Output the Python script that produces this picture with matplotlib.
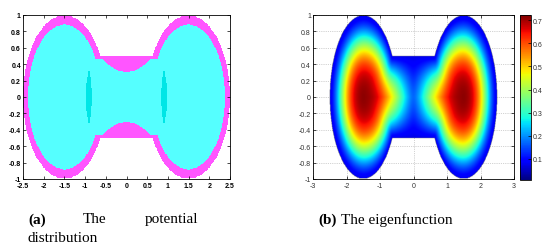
import numpy as np
import matplotlib
matplotlib.use('Agg')
import matplotlib.pyplot as plt
from matplotlib.colors import ListedColormap, Normalize

# domain: two unit discs joined by a neck
lobe_centers = [-1.5, 1.5]
lobe_radius = 1.0
neck_half_height = 0.5

# (a) potential: magenta band near the wall, cyan inside, two darker lenses
inner_radius = 0.885
neck_floor = 0.31      # cyan edge in the neck at x=0
neck_curve = 0.45
neck_cap = 0.47
lens_x = [-0.91, 0.91]
lens_half_w = 0.07
lens_half_h = 0.35
pot_colors = ['#00E6E6', '#55FFFF', '#FF55FF']

# (b) eigenfunction: two peaks, falls to a low value at the wall
peak_x = [-1.45, 1.45]
peak_val = 0.722
wall_val = 0.075
spread_out = 0.89      # towards the outer wall
spread_in = 1.17       # towards the neck
spread_y = 0.88
edge_width = 0.4
cbar_range = [0.009, 0.722]

xticks_a = [-2.5, -2, -1.5, -1, -0.5, 0, 0.5, 1, 1.5, 2, 2.5]
xticks_b = [-3, -2, -1, 0, 1, 2, 3]
yticks = [-1, -0.8, -0.6, -0.4, -0.2, 0, 0.2, 0.4, 0.6, 0.8, 1]
cbar_ticks = [0.1, 0.2, 0.3, 0.4, 0.5, 0.6, 0.7]


def domain(X, Y):
    ins = np.abs(Y) <= neck_half_height
    ins &= np.abs(X) <= abs(lobe_centers[1])
    for c in lobe_centers:
        ins |= np.hypot(X - c, Y) <= lobe_radius
    return ins


def wall_distance(X, Y):
    neck_x = abs(lobe_centers[1]) - np.sqrt(lobe_radius**2 - neck_half_height**2)
    a = np.arcsin(neck_half_height / lobe_radius)
    th = np.linspace(a, 2*np.pi - a, 300)
    pts = [np.c_[lobe_centers[0] + lobe_radius*np.cos(th), lobe_radius*np.sin(th)],
           np.c_[lobe_centers[1] - lobe_radius*np.cos(th), lobe_radius*np.sin(th)]]
    xs = np.linspace(-neck_x, neck_x, 60)
    pts.append(np.c_[xs, np.full_like(xs, neck_half_height)])
    pts.append(np.c_[xs, np.full_like(xs, -neck_half_height)])
    pts = np.vstack(pts)
    d = np.full(X.shape, np.inf)
    for bx, by in pts:
        d = np.minimum(d, np.hypot(X - bx, Y - by))
    return d


def fmt(v):
    return '{:g}'.format(v)


def style(ax, xt, weight, color):
    ax.set_xticks(xt)
    ax.set_xticklabels([fmt(v) for v in xt], weight=weight)
    ax.set_yticks(yticks)
    ax.set_yticklabels([fmt(v) for v in yticks], weight=weight)
    ax.tick_params(direction='in', top=True, right=True, length=2, width=0.5,
                   labelsize=5, pad=1.5, labelcolor=color)
    ax.tick_params(axis='x', pad=2.5)
    for s in ax.spines.values():
        s.set_linewidth(0.6)


plt.rcParams['font.family'] = ['Liberation Sans', 'DejaVu Sans']
fig = plt.figure(figsize=(5.58, 2.51), dpi=100)

# ---- (a) potential distribution
xa = np.linspace(-2.5, 2.5, 600)
ya = np.linspace(-1, 1, 260)
XA, YA = np.meshgrid(xa, ya)
ins = domain(XA, YA)
cyan = np.hypot(np.abs(XA) - abs(lobe_centers[1]), YA) < inner_radius
cyan |= (np.abs(XA) < 0.8) & (np.abs(YA) < np.minimum(neck_floor + neck_curve*XA**2, neck_cap))
lens = np.zeros_like(ins)
for lx in lens_x:
    lens |= np.abs(XA - lx) < lens_half_w*(1 - (YA/lens_half_h)**2)
code = np.full(XA.shape, np.nan)
code[ins] = 2
code[ins & cyan] = 1
code[ins & lens] = 0

ax1 = fig.add_axes([23/558, 1 - 180/251, 207/558, 164/251])
ax1.imshow(code, origin='lower', extent=[-2.5, 2.5, -1, 1], aspect='auto',
           cmap=ListedColormap(pot_colors), vmin=-0.5, vmax=2.5, interpolation='nearest')
ax1.set_xlim(-2.5, 2.5)
ax1.set_ylim(-1, 1)
style(ax1, xticks_a, 'bold', 'black')

# ---- (b) eigenfunction
xb = np.linspace(-3, 3, 560)
yb = np.linspace(-1, 1, 240)
XB, YB = np.meshgrid(xb, yb)
ins = domain(XB, YB)
d = wall_distance(XB, YB)
g = []
for px in peak_x:
    dx = XB - px
    outward = np.sign(dx) == np.sign(px)
    sx = np.where(outward, spread_out, spread_in)
    rho = np.sqrt((dx/sx)**2 + (YB/spread_y)**2)
    g.append(np.exp(-rho**3))
G = (g[0]**4 + g[1]**4)**0.25
phi = wall_val + (peak_val - wall_val)*np.tanh(d/edge_width)*G
phi[~ins] = np.nan

ax2 = fig.add_axes([313/558, 1 - 180/251, 201/558, 164/251])
ax2.set_axisbelow(True)
ax2.grid(True, linestyle=':', linewidth=0.5, color='#a8a8a8')
im = ax2.imshow(phi, origin='lower', extent=[-3, 3, -1, 1], aspect='auto', cmap='jet',
                norm=Normalize(*cbar_range), interpolation='bilinear', zorder=1)
ax2.set_xlim(-3, 3)
ax2.set_ylim(-1, 1)
style(ax2, xticks_b, 'normal', '#333333')

cax = fig.add_axes([520/558, 1 - 181/251, 11/558, 165/251])
cb = fig.colorbar(im, cax=cax)
cb.set_ticks(cbar_ticks)
cb.set_ticklabels([fmt(v) for v in cbar_ticks])
cax.tick_params(direction='in', length=2, width=0.5, labelsize=5, pad=1.5,
                labelcolor='#333333')
cb.outline.set_linewidth(0.6)

# ---- captions
serif = 'Liberation Serif'
fs = 11
fig.text(28/558, 1 - 220/251, '(a)', family=serif, weight='bold', fontsize=fs, va='center')
fig.text(83/558, 1 - 220/251, 'The', family=serif, fontsize=fs, va='center')
fig.text(145/558, 1 - 220/251, 'potential', family=serif, fontsize=fs, va='center')
fig.text(28/558, 1 - 239/251, 'distribution', family=serif, fontsize=fs, va='center')
fig.text(318/558, 1 - 220/251, '(b)', family=serif, weight='bold', fontsize=fs, va='center')
fig.text(341/558, 1 - 220/251, 'The eigenfunction', family=serif, fontsize=fs, va='center')

fig.savefig('out.png', dpi=100)
